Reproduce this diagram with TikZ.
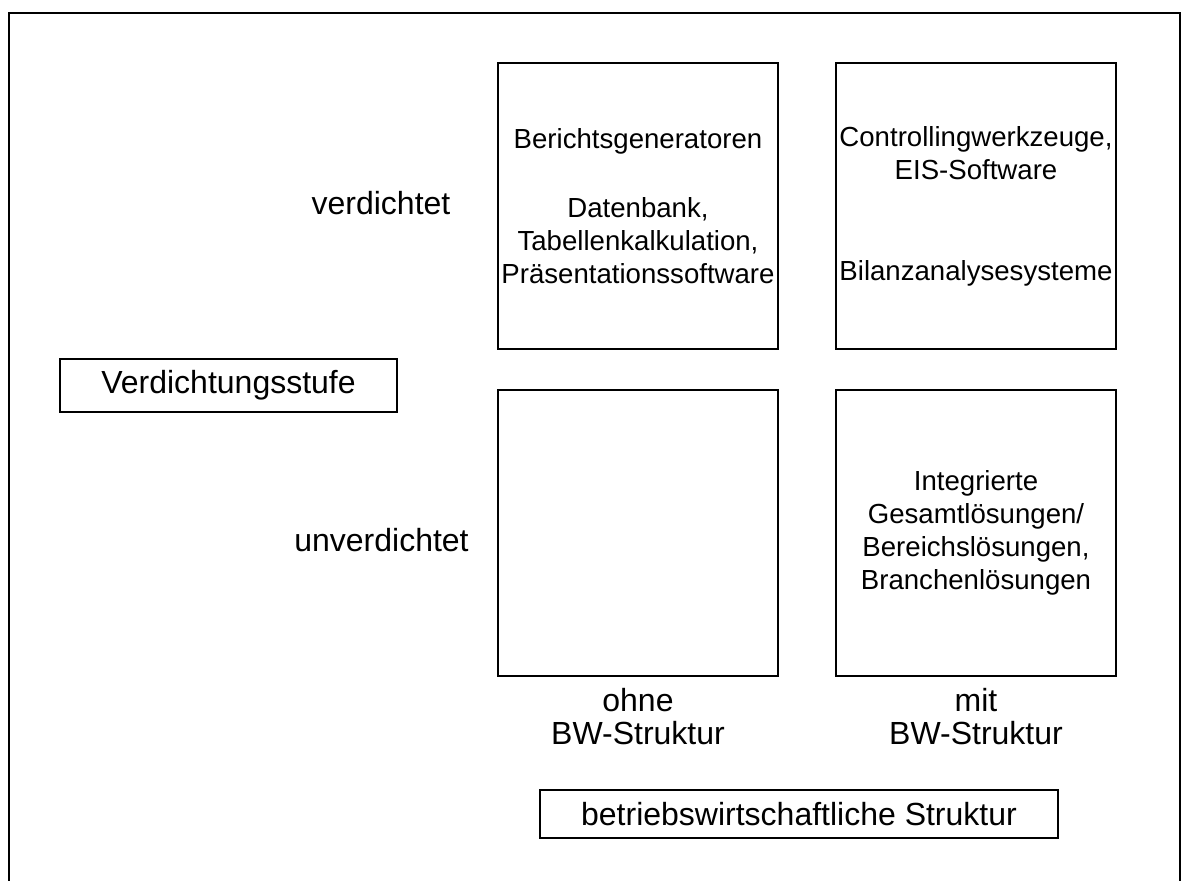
\documentclass[tikz,border=0pt]{standalone}
\usepackage{fontspec}
\setmainfont{Liberation Sans}
\usetikzlibrary{positioning}

\begin{document}
\begin{tikzpicture}[
    cell/.style={rectangle, draw, line width=0.65pt, minimum width=140pt,
                minimum height=143pt, inner sep=1pt, outer sep=0pt, align=center,
                font=\fontsize{13.8pt}{16.5pt}\selectfont},
    tag/.style={rectangle, draw, line width=0.65pt, inner sep=0pt, outer sep=0pt,
                font=\fontsize{16pt}{16.5pt}\selectfont},
    axislabel/.style={align=center, inner sep=0pt,
                font=\fontsize{16pt}{16.5pt}\selectfont},
]
\useasboundingbox (0,0) rectangle (592.5pt,-440.5pt);

% Frame, open at the bottom
\coordinate (fbl) at (4.5pt,-440.5pt);
\coordinate (ftr) at (590pt,-6.5pt);
\coordinate (fbr) at (590pt,-440.5pt);
\draw[line width=1pt] (fbl) |- (ftr) -- (fbr);

% Portfolio cells
\node[cell] (tl) at (319pt,-103pt)
    {Berichtsgeneratoren\\[18pt]Datenbank,\\Tabellenkalkulation,\\Präsentationssoftware};
\node[cell, right=29pt of tl] (tr)
    {Controllingwerkzeuge,\\EIS-Software\\[34pt]Bilanzanalysesysteme};
\node[cell, below=20.5pt of tl] (bl) {};
\node[cell, below=20.5pt of tr] (br)
    {Integrierte\\Gesamtlösungen/\\Bereichslösungen,\\Branchenlösungen};

% Vertical axis
\node[axislabel] (dense) at (190.5pt,-101.5pt) {verdichtet};
\node[axislabel] (sparse) at (190.75pt,-270pt) {unverdichtet};
\node[tag, minimum width=168.5pt, minimum height=26.5pt] (stage) at (114.25pt,-192.75pt)
    {Verdichtungsstufe};

% Horizontal axis
\node[axislabel, below=6pt of bl] (without) {ohne\\BW-Struktur};
\node[axislabel, below=6pt of br] (with) {mit\\BW-Struktur};
\node[tag, minimum width=259pt, minimum height=24pt] (structure) at (399.5pt,-407pt)
    {betriebswirtschaftliche Struktur};

\end{tikzpicture}
\end{document}
